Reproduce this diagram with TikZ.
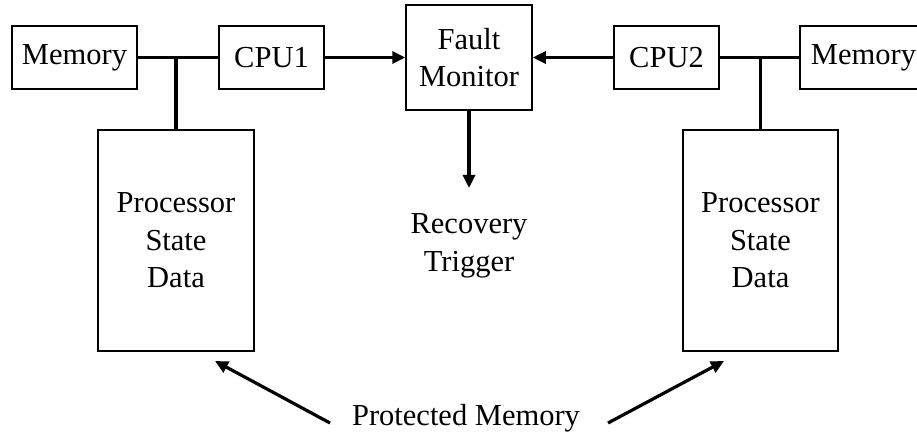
\documentclass[tikz,border=0pt]{standalone}
\usepackage{fontspec}
\setmainfont{Liberation Serif}
\usetikzlibrary{arrows.meta}
\begin{document}
\begin{tikzpicture}[x=1pt,y=-1pt,
  font=\fontsize{30.5}{37.5}\selectfont,
  box/.style={draw, line width=1.5pt, inner sep=0pt, align=center},
  txt/.style={inner sep=0pt, align=center},
  conn/.style={line width=3.2pt},
  arr/.style={conn, -{Triangle[length=13pt,width=12pt]}}]
\useasboundingbox (0,0) rectangle (917,438);
% top row
\node[box, minimum width=125pt, minimum height=63pt] (mem1) at (74.5,57.5) {Memory};
\node[box, minimum width=105pt, minimum height=63pt] (cpu1) at (271.5,57.5) {CPU1};
\node[box, minimum width=126pt, minimum height=105pt] (fm) at (469,57.5) {Fault\\Monitor};
\node[box, minimum width=105pt, minimum height=63pt] (cpu2) at (666.5,57.5) {CPU2};
\node[box, minimum width=127pt, minimum height=63pt] (mem2) at (863.5,57.5) {Memory};
% state data boxes
\node[box, minimum width=156pt, minimum height=221pt] (psd1) at (176,240.5) {Processor\\State\\Data};
\node[box, minimum width=155pt, minimum height=221pt] (psd2) at (760.5,240.5) {Processor\\State\\Data};
% labels
\node[txt] (rt) at (469,246) {Recovery\\Trigger};
\node[txt] (pm) at (466,418) {Protected Memory};
% coordinates
\coordinate (j1) at (176,57.5);
\coordinate (j2) at (760.5,57.5);
\coordinate (trig) at (469,188);
\coordinate (t1) at (330,423);
\coordinate (t2) at (608,423);
\coordinate (h1) at (215,361);
\coordinate (h2) at (724,361);
% connectors
\draw[conn] (mem1.east) -- (cpu1.west);
\draw[conn] (j1) -- (psd1.north);
\draw[conn] (mem2.west) -- (cpu2.east);
\draw[conn] (j2) -- (psd2.north);
\draw[arr] (cpu1.east) -- (fm.west);
\draw[arr] (cpu2.west) -- (fm.east);
\draw[arr] (fm.south) -- (trig);
\draw[arr] (t1) -- (h1);
\draw[arr] (t2) -- (h2);
\end{tikzpicture}
\end{document}
